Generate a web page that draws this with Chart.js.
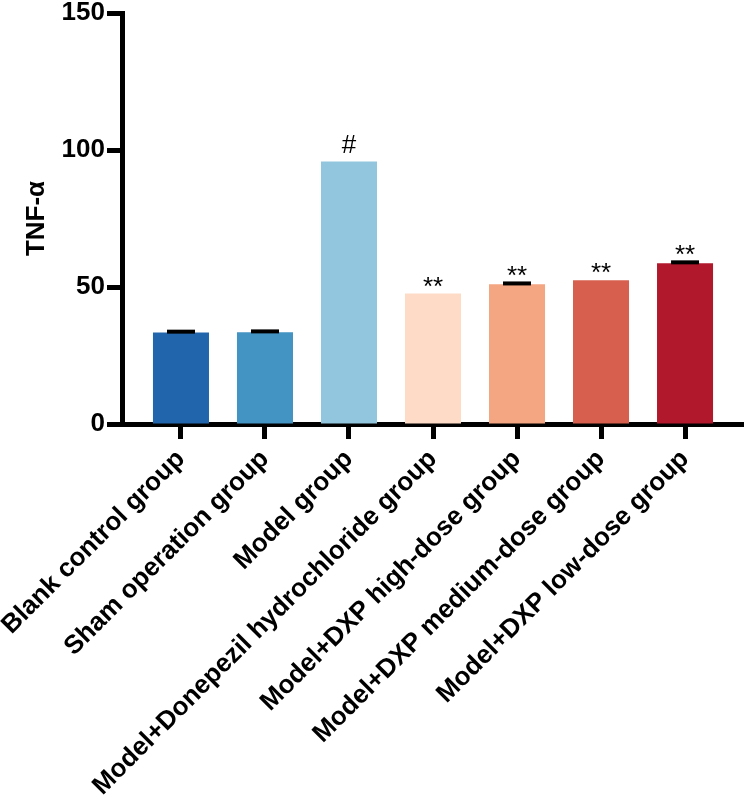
<!DOCTYPE html>
<html>
<head>
<meta charset="utf-8">
<script src="https://cdn.jsdelivr.net/npm/chart.js@4/dist/chart.umd.min.js"></script>
<style>
  html, body { margin: 0; padding: 0; background: #fff; }
  #wrap { width: 750px; height: 806px; position: relative; }
</style>
</head>
<body>
<div id="wrap"><canvas id="tnfChart"></canvas></div>
<script>
// Data
const groups = [
    'Blank control group',
    'Sham operation group',
    'Model group',
    'Model+Donepezil hydrochloride group',
    'Model+DXP high-dose group',
    'Model+DXP medium-dose group',
    'Model+DXP low-dose group'
];
const tnfValues = [33.4, 33.5, 95.8, 47.6, 51.0, 52.5, 58.7];
const tnfErrors = [0.3, 0.3, 0, 0, 0.3, 0, 0.3];
const marks = ['', '', '#', '**', '**', '**', '**'];
const barColors = ['#2166ac', '#4393c3', '#92c5de', '#fddbc7', '#f4a582', '#d6604d', '#b2182b'];
const yTicks = [0, 50, 100, 150];

const FONT = "'Liberation Sans', Arial, sans-serif";

// error caps + significance marks
const annotate = {
    id: 'annotate',
    afterDatasetsDraw(chart) {
        const ctx = chart.ctx;
        const y = chart.scales.y;
        const meta = chart.getDatasetMeta(0);
        ctx.save();
        meta.data.forEach((bar, i) => {
            const top = y.getPixelForValue(tnfValues[i] + tnfErrors[i]);
            if (tnfErrors[i] > 0) {
                ctx.strokeStyle = '#000';
                ctx.lineWidth = 4;
                ctx.beginPath();
                ctx.moveTo(bar.x - 14, top);
                ctx.lineTo(bar.x + 14, top);
                ctx.stroke();
            }
            if (marks[i]) {
                ctx.fillStyle = '#000';
                ctx.font = '26px ' + FONT;
                ctx.textAlign = 'center';
                ctx.textBaseline = 'alphabetic';
                ctx.fillText(marks[i], bar.x, marks[i] === '#' ? top - 9 : top + 1);
            }
        });
        ctx.restore();
    }
};

const ctx = document.getElementById('tnfChart').getContext('2d');
const tnfChart = new Chart(ctx, {
    type: 'bar',
    data: {
        datasets: [{
            data: tnfValues.map((v, i) => ({ x: i, y: v })),
            backgroundColor: barColors,
            borderWidth: 0,
            categoryPercentage: 1,
            barPercentage: 0.667
        }]
    },
    options: {
        responsive: true,
        maintainAspectRatio: false,
        animation: false,
        events: [],
        layout: { padding: { top: 13, right: 7, left: 0, bottom: 0 } },
        plugins: { legend: { display: false }, tooltip: { enabled: false } },
        scales: {
            x: {
                type: 'linear',
                offset: false,
                min: -0.702,
                max: 6.69,
                afterBuildTicks: (scale) => { scale.ticks = groups.map((_, i) => ({ value: i })); },
                afterFit: (scale) => {
                    scale.height = 382;
                    scale.paddingLeft = 0;
                    scale.paddingRight = 0;
                },
                border: { display: true, color: '#000', width: 5 },
                grid: { offset: false, drawOnChartArea: false, drawTicks: true, tickLength: 15, tickWidth: 5, tickColor: '#000' },
                ticks: {
                    autoSkip: false,
                    minRotation: 45,
                    maxRotation: 45,
                    padding: 5,
                    color: '#000',
                    font: { family: FONT, size: 26, weight: 'bold' },
                    callback: (v) => groups[v]
                }
            },
            y: {
                min: 0,
                max: 150,
                afterBuildTicks: (scale) => { scale.ticks = yTicks.map(v => ({ value: v })); },
                afterFit: (scale) => {
                    scale.width = 122;
                    scale.paddingTop = 0;
                    scale.paddingBottom = 0;
                },
                border: { display: true, color: '#000', width: 5 },
                grid: { drawOnChartArea: false, drawTicks: true, tickLength: 15, tickWidth: 5, tickColor: '#000' },
                ticks: {
                    padding: 2,
                    color: '#000',
                    font: { family: FONT, size: 26, weight: 'bold' }
                },
                title: {
                    display: true,
                    text: 'TNF-α',
                    color: '#000',
                    padding: { top: 21, bottom: 0 },
                    font: { family: FONT, size: 26, weight: 'bold' }
                }
            }
        }
    },
    plugins: [annotate]
});
</script>
</body>
</html>
